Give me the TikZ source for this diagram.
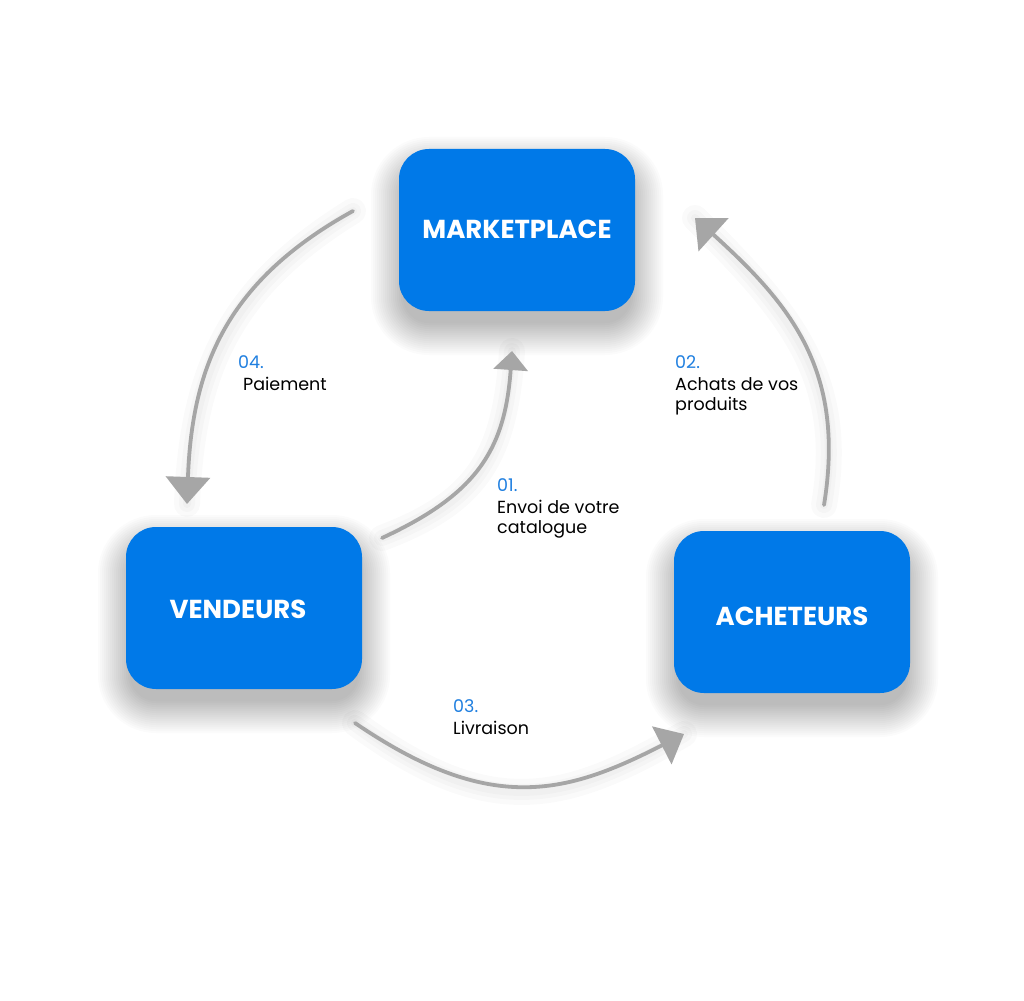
\documentclass[tikz,border=0pt]{standalone}
\usepackage{fontspec}
\setmainfont{Poppins}
\usetikzlibrary{arrows.meta}
\definecolor{boxblue}{HTML}{0079E8}
\definecolor{numblue}{HTML}{1F7FE0}
\definecolor{arrowgray}{HTML}{A6A6A6}
\begin{document}
\begin{tikzpicture}[x=1pt,y=-1pt,
  box/.style={fill=boxblue, rounded corners=30pt, minimum width=236pt, minimum height=162pt, inner sep=0pt, draw=none},
  boxtext/.style={text=white, font=\fontsize{26}{30}\selectfont\bfseries, inner sep=0pt},
  num/.style={text=numblue, anchor=west, inner sep=0pt, font=\fontsize{17.5}{20}\selectfont},
  lbl/.style={text=black, anchor=west, inner sep=0pt, font=\fontsize{17.5}{20}\selectfont},
  arr/.style={draw=arrowgray, line width=3.8pt, line cap=round},
  glow/.style={draw=black, opacity=0.018, line cap=round}
]
\fill[white] (0,0) rectangle (1024,1000);
\useasboundingbox (0,0) rectangle (1024,1000);

% soft shadows of boxes
\foreach \cx/\cy in {517/230, 244/608, 792/612}{
  \foreach \i in {-4,-2,...,28}{
    \fill[black, opacity=0.014, rounded corners={max(30+\i,10)*1pt}]
      (\cx-118-\i, \cy-81-\i+16) rectangle (\cx+118+\i, \cy+81+\i+16);
  }
}

% boxes
\node[box] (mp) at (517,230) {};
\node[box] (vd) at (244,608) {};
\node[box] (ac) at (792,612) {};
\node[boxtext] (mpt) at (517,229) {MARKETPLACE};
\node[boxtext] (vdt) at (238,609) {VENDEURS};
\node[boxtext] (act) at (792,616) {ACHETEURS};

% arrow end points
\coordinate (s4) at (353,211); \coordinate (e4) at (187,504);
\coordinate (s1) at (382,538); \coordinate (e1) at (512,351);
\coordinate (s2) at (824,505); \coordinate (e2) at (695,218);
\coordinate (s3) at (355,723); \coordinate (e3) at (684,734);

% arrow glows
\begin{scope}[yshift=-8pt]
\foreach \w in {26,16,8}{
\draw[glow, line width=\w pt] (s4) .. controls (228,280) and (192,365) .. (e4);
\draw[glow, line width=\w pt] (s1) .. controls (477,494) and (505,450) .. (e1);
\draw[glow, line width=\w pt] (s2) .. controls (846,370) and (790,304) .. (e2);
\draw[glow, line width=\w pt] (s3) .. controls (490,815) and (565,795) .. (e3);
}
\end{scope}

% arrows
\draw[arr, -{Triangle[length=27pt,width=44pt]}] (s4) .. controls (228,280) and (192,365) .. (e4);
\draw[arr, -{Triangle[length=19pt,width=34pt]}] (s1) .. controls (477,494) and (505,450) .. (e1);
\draw[arr, -{Triangle[length=25pt,width=44pt]}] (s2) .. controls (846,370) and (790,304) .. (e2);
\draw[arr, -{Triangle[length=25pt,width=42pt]}] (s3) .. controls (490,815) and (565,795) .. (e3);

% labels
\node[num] (n4) at (238,362) {04.};
\node[lbl] (l4) at (243,384) {Paiement};
\node[num] (n1) at (497,485) {01.};
\node[lbl] (l1a) at (497,507) {Envoi de votre};
\node[lbl] (l1b) at (497,529) {catalogue};
\node[num] (n2) at (675,362) {02.};
\node[lbl] (l2a) at (675,384) {Achats de vos};
\node[lbl] (l2b) at (675,406) {produits};
\node[num] (n3) at (453,706) {03.};
\node[lbl] (l3) at (453,728) {Livraison};
\end{tikzpicture}
\end{document}
